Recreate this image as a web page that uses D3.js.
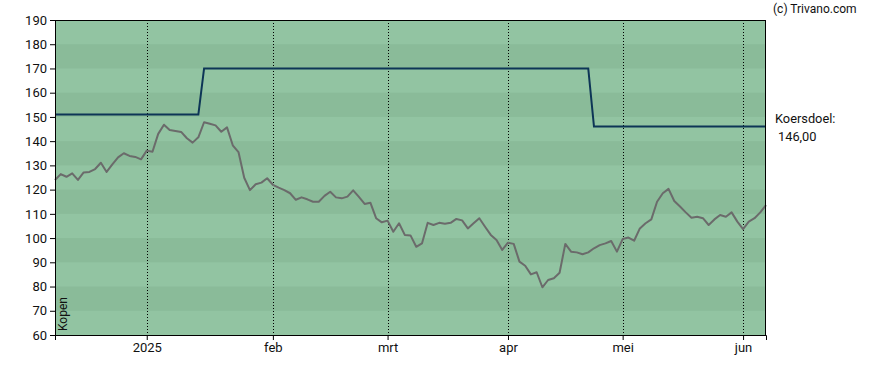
<!DOCTYPE html>
<html><head><meta charset="utf-8">
<script src="https://cdn.jsdelivr.net/npm/d3@7"></script>
<style>body{margin:0;background:#fff}svg{display:block}text{font-family:Roboto,"Liberation Sans",Arial,sans-serif}</style>
</head><body><svg id="c" width="888" height="370"></svg>
<script>
// Price per trading day (index 0 = early Dec 2024)
const price = [124.0,126.4,125.3,126.7,124.0,127.1,127.3,128.5,131.1,127.3,
130.4,133.3,135.0,133.9,133.5,132.5,136.1,135.6,143.0,146.8,
144.6,144.2,143.8,141.2,139.4,141.6,147.8,147.2,146.5,143.9,
145.7,138.3,135.5,124.9,119.8,122.2,122.9,124.7,122.0,120.8,
119.8,118.5,115.8,116.8,116.0,115.0,115.0,117.4,119.1,116.8,
116.4,117.1,119.7,117.0,114.1,114.6,108.2,106.5,107.2,102.6,
106.1,101.3,101.1,96.4,97.8,106.3,105.4,106.3,105.9,106.3,
107.9,107.3,104.0,106.1,108.2,104.7,101.3,99.2,95.1,98.1,
97.6,90.3,88.6,85.0,85.9,79.7,82.7,83.4,85.7,97.6,
94.4,94.1,93.3,94.1,95.8,97.1,97.8,98.8,94.4,99.6,
100.2,98.9,104.0,106.1,107.7,115.0,118.5,120.3,115.3,113.0,
110.6,108.4,108.8,108.2,105.4,107.7,109.5,108.8,110.6,106.8,
103.7,106.8,108.2,110.6,113.6];
// Analyst price target (koersdoel) per trading day
const target = [].concat(Array(26).fill(151), Array(68).fill(170), Array(31).fill(146));
const monthLabels = ["2025","feb","mrt","apr","mei","jun"];
const monthIndex = [16,38,58,79,99,120];
const yTicks = [60,70,80,90,100,110,120,130,140,150,160,170,180,190];
const bandsDark = [[70,80],[90,100],[110,120],[130,140],[150,160],[170,180]];
const targetLabel = "Koersdoel:";
const targetValue = "146,00";

const L=55,R=766,T=20,B=335;
const svg=d3.select("#c");
const x=d3.scaleLinear().domain([0,price.length-1]).range([L,R]);
const y=d3.scaleLinear().domain([60,190]).range([B,T]);

svg.append("rect").attr("x",L).attr("y",T).attr("width",R-L).attr("height",B-T).attr("fill","#92c4a2");
svg.selectAll("rect.band").data(bandsDark).enter().append("rect")
 .attr("x",L).attr("width",R-L).attr("y",d=>y(d[1])).attr("height",d=>y(d[0])-y(d[1])).attr("fill","#8abb99");

svg.selectAll("line.grid").data(monthIndex).enter().append("line")
 .attr("x1",d=>Math.round(x(d))+0.5).attr("x2",d=>Math.round(x(d))+0.5).attr("y1",T).attr("y2",B)
 .attr("stroke","#000").attr("stroke-dasharray","1,2");

const ln=d3.line().x((d,i)=>x(i)).y(d=>y(d));
svg.append("path").datum(price).attr("d",ln).attr("fill","none").attr("stroke","#6b6b6b").attr("stroke-width",2).attr("stroke-linejoin","round");
svg.append("path").datum(target).attr("d",ln).attr("fill","none").attr("stroke","#0d3556").attr("stroke-width",2);

svg.append("rect").attr("x",L+0.5).attr("y",T+0.5).attr("width",R-L-1).attr("height",B-T).attr("fill","none").attr("stroke","#000");

const ya=svg.append("g").attr("transform",`translate(${L},0)`).call(d3.axisLeft(y).tickValues(yTicks).tickSize(5).tickPadding(3).tickFormat(d3.format("d")));
const xa=svg.append("g").attr("transform",`translate(0,${B})`).call(d3.axisBottom(x).tickValues(monthIndex).tickSize(5).tickPadding(3).tickFormat((d,i)=>monthLabels[i]));
[ya,xa].forEach(a=>{a.select(".domain").attr("stroke","#000");a.selectAll("text").attr("font-size",13).attr("fill","#111").attr("font-family","Roboto,'Liberation Sans',Arial,sans-serif");a.selectAll("line").attr("stroke","#000");});

svg.append("text").attr("transform",`translate(67,${B-4}) rotate(-90)`).attr("font-size",12).attr("fill","#111").text("Kopen");
svg.append("text").attr("x",773).attr("y",13).attr("font-size",12).attr("fill","#111").text("(c) Trivano.com");
svg.append("text").attr("x",775).attr("y",123).attr("font-size",12.8).attr("fill","#111").text(targetLabel);
svg.append("text").attr("x",778).attr("y",141).attr("font-size",12.8).attr("fill","#111").text(targetValue);
</script></body></html>
